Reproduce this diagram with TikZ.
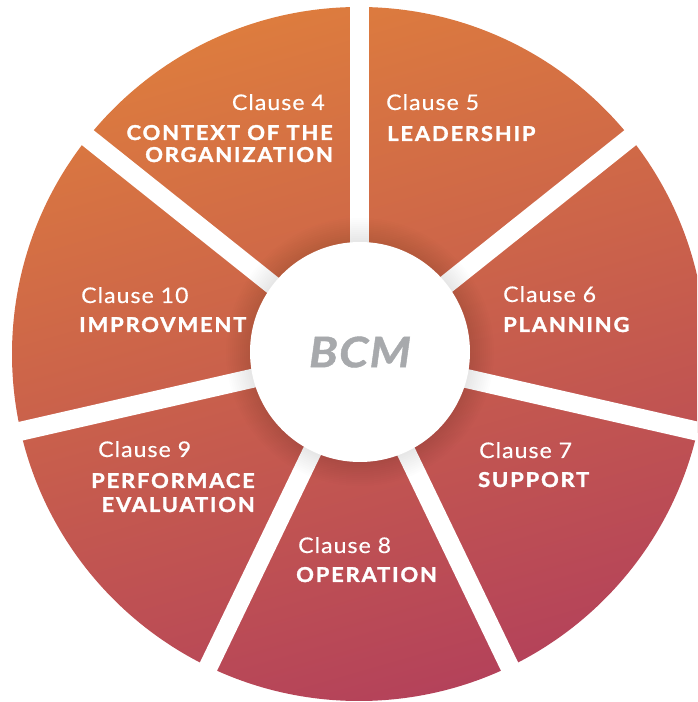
\documentclass[tikz,border=0pt]{standalone}
\usepackage{fontspec}
\setmainfont{Lato}
\definecolor{bcmorange}{RGB}{221,124,62}
\definecolor{bcmcrimson}{RGB}{180,66,90}
\definecolor{bcmgray}{RGB}{167,169,172}
\tikzset{
  clause/.style={text=white, inner sep=0pt,
    font=\fontsize{21.5}{24}\selectfont\addfontfeature{LetterSpace=5,FakeStretch=1.07,FakeBold=0.5}},
  title/.style={text=white, inner sep=0pt,
    font=\bfseries\fontsize{20.5}{22}\selectfont\addfontfeature{LetterSpace=9,FakeStretch=1.07,FakeBold=1.6}},
}
\begin{document}
\begin{tikzpicture}[x=1pt, y=1pt]
    \useasboundingbox (0,0) rectangle (697,702);
    \clip (0,0) rectangle (697,702);
    \coordinate (o) at (359,348);
    \coordinate (hc) at (360,350);

    \shade[top color=bcmorange, bottom color=bcmcrimson, shading angle=16] (o) circle (347);

    % white gaps between the clauses
    \foreach \a in {0,...,6}
      \draw[white, line width=19pt] (o) -- ++(90-\a*360/7:360);

    % soft shadow round the hub
    \foreach \r in {1,...,12}
      \fill[black, opacity=0.008] (hc) circle (110+2*\r);
    \node[circle, fill=white, minimum size=220pt, inner sep=0pt] (hub) at (hc) {};
    \node[font=\bfseries\itshape\fontsize{42}{42}\selectfont\addfontfeature{FakeStretch=1.12,LetterSpace=3,FakeBold=1},
      text=bcmgray, inner sep=0pt] (bcm) at (hc) {BCM};

    \node[clause, anchor=base east] (c4) at (325,592) {Clause 4};
    \node[title, anchor=base east] (t4a) at (333,562) {CONTEXT OF THE};
    \node[title, anchor=base east] (t4b) at (333,540) {ORGANIZATION};

    \node[clause, anchor=base west] (c5) at (386,592) {Clause 5};
    \node[title, anchor=base west] (t5) at (387,561) {LEADERSHIP};

    \node[clause, anchor=base west] (c6) at (503,400) {Clause 6};
    \node[title, anchor=base west] (t6) at (503,370) {PLANNING};

    \node[clause, anchor=base west] (c7) at (479,244) {Clause 7};
    \node[title, anchor=base west] (t7) at (478,215) {SUPPORT};

    \node[clause, anchor=base west] (c8) at (298,149) {Clause 8};
    \node[title, anchor=base west] (t8) at (296,120) {OPERATION};

    \node[clause, anchor=base west] (c9) at (98,245) {Clause 9};
    \node[title, anchor=base east] (t9a) at (255,214) {PERFORMACE};
    \node[title, anchor=base east] (t9b) at (255,190) {EVALUATION};

    \node[clause, anchor=base west] (c10) at (81,399) {Clause 10};
    \node[title, anchor=base west] (t10) at (79,370) {IMPROVMENT};
  \end{tikzpicture}
\end{document}
